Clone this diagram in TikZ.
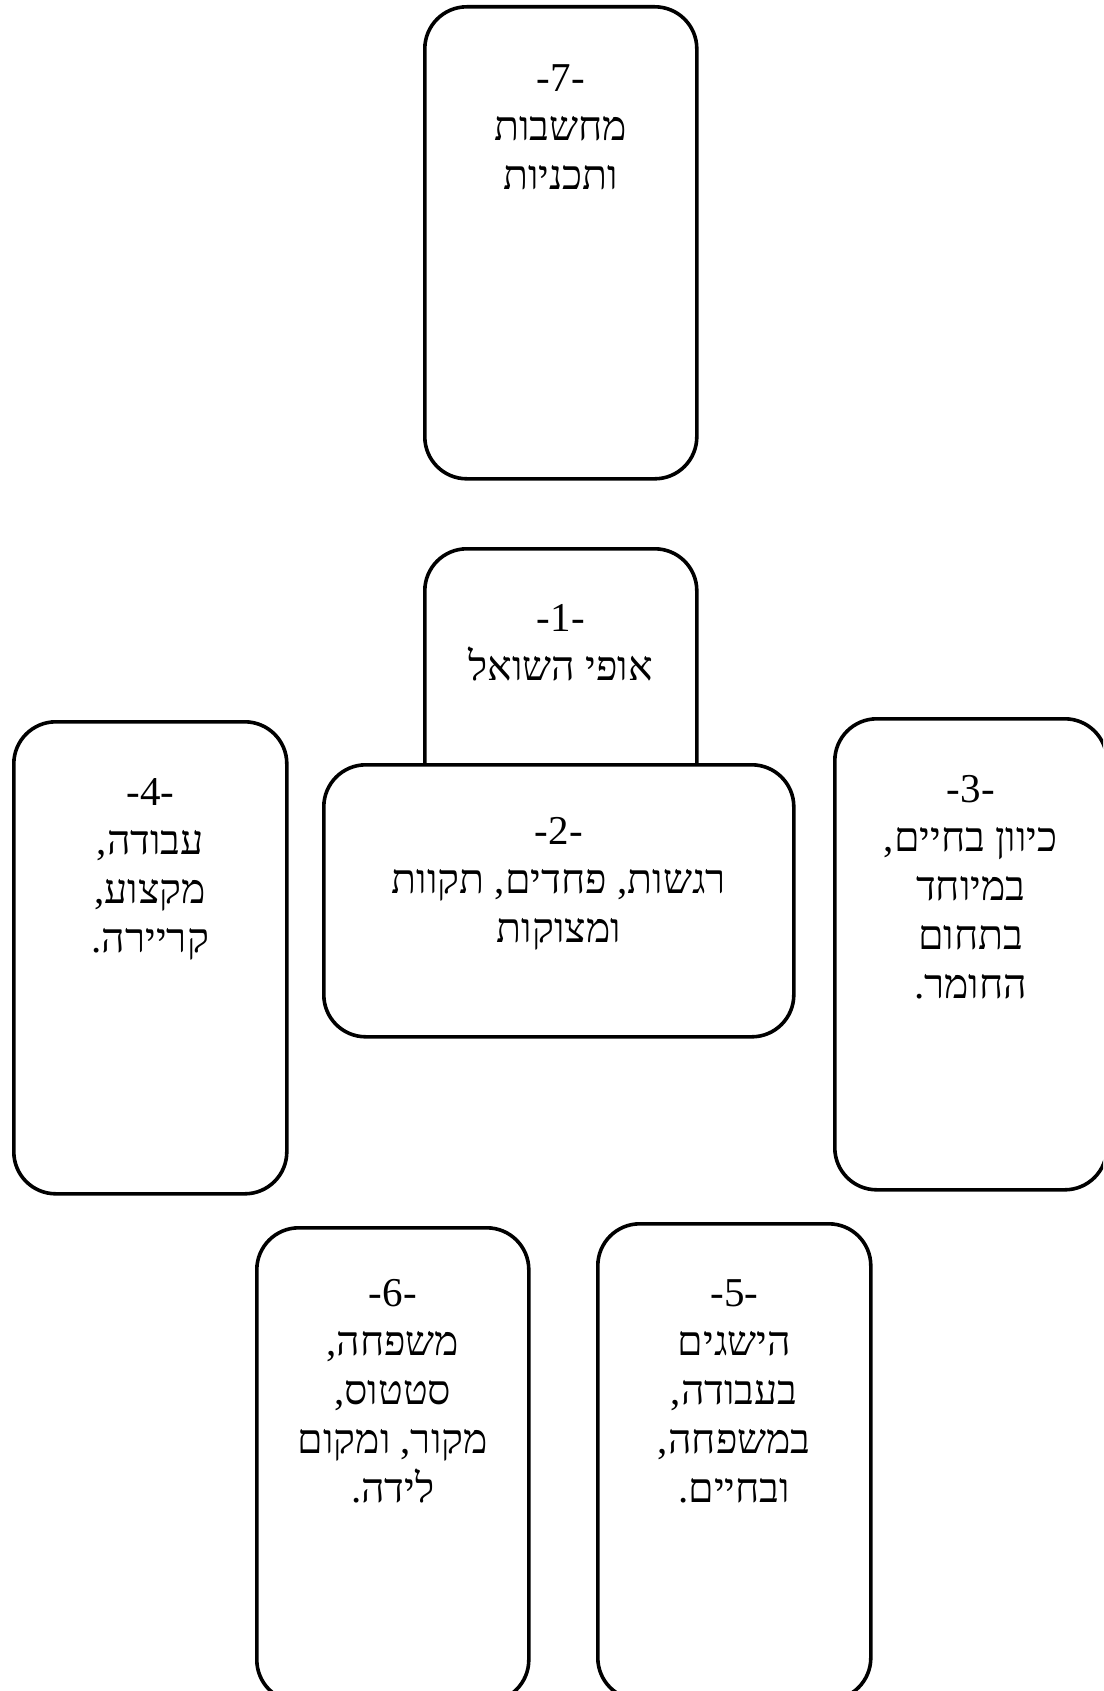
\documentclass[tikz,border=0pt]{standalone}
\usepackage{fontspec}
\setmainfont{Liberation Serif}
\newfontfamily\hebfont[Script=Hebrew]{Liberation Serif}
\TeXXeTstate=1
\newcommand{\heb}[1]{\beginR#1\endR}
\newcommand{\firstln}{\rule{0pt}{30pt}}
\begin{document}
\begin{tikzpicture}[x=1pt,y=-1pt,
  card/.style={draw=black, line width=3.6pt, rounded corners=42pt, fill=white,
    inner sep=0pt, anchor=north west},
  cardtext/.style={anchor=north, align=center, inner sep=0pt,
    font=\hebfont\fontsize{41}{49}\selectfont}]
\useasboundingbox (0,0) rectangle (1103,1691);
\clip (0,0) rectangle (1103,1691);
% box 7
\node[card, minimum width=272pt, minimum height=472pt] (b7) at (423,5) {};
\node[cardtext] (t7) at ([yshift=-56pt]b7.north) {\firstln-7-\\ \heb{מחשבות}\\ \heb{ותכניות}};
% box 1 (partly hidden by box 2)
\node[card, minimum width=272pt, minimum height=350pt] (b1) at (423,547) {};
\node[cardtext] (t1) at ([yshift=-54pt]b1.north) {\firstln-1-\\ \heb{אופי השואל}};
% box 2
\node[card, minimum width=470pt, minimum height=272pt] (b2) at (322,763) {};
\node[cardtext] (t2) at ([yshift=-51pt]b2.north) {\firstln-2-\\ \heb{רגשות, פחדים, תקוות}\\ \heb{ומצוקות}};
% box 4
\node[card, minimum width=273pt, minimum height=472pt] (b4) at (12,720) {};
\node[cardtext] (t4) at ([yshift=-55pt]b4.north) {\firstln-4-\\ \heb{עבודה,}\\ \heb{מקצוע,}\\ \heb{קריירה.}};
% box 3
\node[card, minimum width=272pt, minimum height=471pt] (b3) at (833,717) {};
\node[cardtext] (t3) at ([yshift=-55pt]b3.north) {\firstln-3-\\ \heb{כיוון בחיים,}\\ \heb{במיוחד}\\ \heb{בתחום}\\ \heb{החומר.}};
% box 6
\node[card, minimum width=272pt, minimum height=474pt] (b6) at (255,1226) {};
\node[cardtext] (t6) at ([yshift=-50pt]b6.north) {\firstln-6-\\ \heb{משפחה,}\\ \heb{סטטוס,}\\ \heb{מקור, ומקום}\\ \heb{לידה.}};
% box 5
\node[card, minimum width=273pt, minimum height=476pt] (b5) at (596,1222) {};
\node[cardtext] (t5) at ([yshift=-54pt]b5.north) {\firstln-5-\\ \heb{הישגים}\\ \heb{בעבודה,}\\ \heb{במשפחה,}\\ \heb{ובחיים.}};
\end{tikzpicture}
\end{document}
